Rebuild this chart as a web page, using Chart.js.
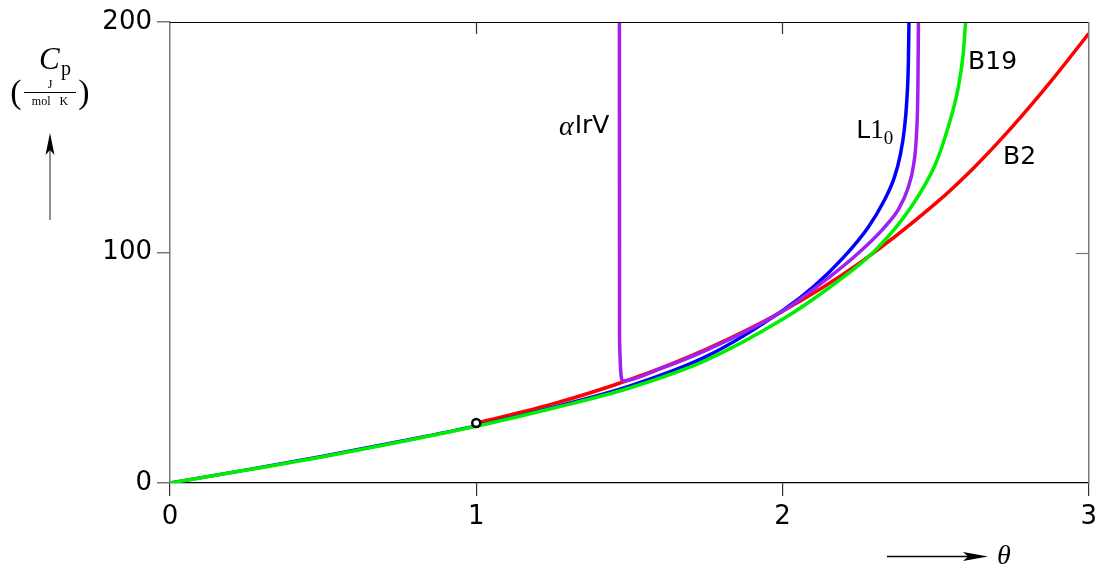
<!DOCTYPE html>
<html>
<head>
<meta charset="utf-8">
<script src="https://cdn.jsdelivr.net/npm/chart.js@4.4.1/dist/chart.umd.min.js"></script>
<style>
  html, body { margin: 0; padding: 0; background: #fff; }
  #wrap { width: 1103px; height: 567px; position: relative; }
</style>
</head>
<body>
<div id="wrap"><canvas id="c" width="1103" height="567"></canvas></div>
<script>
// Heat capacity C_p (J/(mol K)) against reduced temperature theta for four phases
const xTickValues = [0, 1, 2, 3];
const xTickLabels = ['0', '1', '2', '3'];
const yTickValues = [0, 100, 200];
const yTickLabels = ['0', '100', '200'];

// B19 (green)
const thetaB19 = [0, 0.25, 0.5, 0.75, 1, 1.25, 1.5, 1.75, 2, 2.15, 2.3, 2.42, 2.5, 2.54, 2.573, 2.59, 2.598];
const cpB19    = [0, 5.6, 11.4, 17.8, 24.6, 32.4, 41.2, 53.2, 71, 84.5, 100.5, 119.7, 138.5, 154, 171, 186, 200];

// L1_0 (blue)
const thetaL10 = [0, 0.25, 0.5, 0.75, 1, 1.25, 1.5, 1.75, 2, 2.1, 2.2, 2.28, 2.33, 2.365, 2.385, 2.398, 2.406, 2.411, 2.413];
const cpL10    = [0, 5.7, 11.6, 18, 24.8, 32.8, 42, 54.8, 74.8, 85, 98, 111, 122, 132.5, 142.5, 153.5, 166, 182, 200];

// B2 (red), starting at the open marker
const thetaB2 = [1, 1.25, 1.5, 1.75, 2, 2.25, 2.5, 2.625, 2.75, 2.875, 3];
const cpB2    = [26, 34.3, 44.8, 58, 74.5, 95.3, 121.3, 136.8, 154.5, 174, 195];

// alpha-IrV (purple)
const thetaIrV = [1.4675, 1.468, 1.478, 1.6, 1.75, 2, 2.15, 2.25, 2.33, 2.38, 2.41, 2.428, 2.437, 2.442, 2.444];
const cpIrV    = [200, 62, 44.3, 49.5, 57.5, 74.5, 89, 100, 110.5, 119, 128, 138, 150, 170, 200];

// Open marker where B2 begins
const markerTheta = [1];
const markerCp = [26];

const pts = (xs, ys) => xs.map((x, i) => ({ x: x, y: ys[i] }));

const curveStyle = (color) => ({
  borderColor: color,
  backgroundColor: color,
  borderWidth: 3.5,
  pointRadius: 0,
  fill: false,
  cubicInterpolationMode: 'monotone',
  showLine: true
});

const mathSerif = '"Liberation Serif", "DejaVu Serif", serif';
const sans = '"DejaVu Sans", "Liberation Sans", sans-serif';

// Labels placed in data coordinates next to each curve
const curveLabelPlugin = {
  id: 'curveLabels',
  afterDraw(chart) {
    const { ctx, scales: { x, y } } = chart;
    ctx.save();
    ctx.fillStyle = '#000';
    ctx.textBaseline = 'middle';

    // alpha IrV
    let px = x.getPixelForValue(1.27), py = y.getPixelForValue(154.5);
    ctx.font = 'italic 28px ' + mathSerif;
    ctx.textAlign = 'left';
    ctx.fillText('\u03B1', px, py + 1);
    px += ctx.measureText('\u03B1').width + 1;
    ctx.font = '25px ' + sans;
    ctx.fillText('IrV', px, py);

    // L1_0
    px = x.getPixelForValue(2.241); py = y.getPixelForValue(152.7);
    ctx.font = '25px ' + sans;
    ctx.fillText('L', px, py);
    px += ctx.measureText('L').width;
    ctx.font = '27px ' + mathSerif;
    ctx.fillText('1', px, py);
    px += ctx.measureText('1').width;
    ctx.font = '19px ' + mathSerif;
    ctx.fillText('0', px, py + 8);

    // B19
    ctx.font = '25px ' + sans;
    ctx.fillText('B19', x.getPixelForValue(2.606), y.getPixelForValue(182.6));

    // B2
    ctx.fillText('B2', x.getPixelForValue(2.72), y.getPixelForValue(141));
    ctx.restore();
  }
};

// Top and right frame edges with inward ticks, plus the axis titles and arrows
const framePlugin = {
  id: 'frame',
  afterDatasetsDraw(chart) {
    const { ctx, chartArea: a, scales: { x, y } } = chart;
    ctx.save();
    // top edge
    ctx.strokeStyle = '#000';
    ctx.lineWidth = 1.2;
    ctx.beginPath();
    ctx.moveTo(a.left, a.top + 0.5);
    ctx.lineTo(a.right, a.top + 0.5);
    ctx.stroke();
    // right edge
    ctx.strokeStyle = '#777';
    ctx.lineWidth = 1.5;
    ctx.beginPath();
    ctx.moveTo(a.right, a.top);
    ctx.lineTo(a.right, a.bottom);
    ctx.stroke();
    // inward ticks on top edge
    ctx.strokeStyle = '#333';
    ctx.lineWidth = 1.2;
    xTickValues.forEach(v => {
      if (v === 0 || v === 3) return;
      const p = Math.round(x.getPixelForValue(v)) + 0.5;
      ctx.beginPath();
      ctx.moveTo(p, a.top);
      ctx.lineTo(p, a.top + 12);
      ctx.stroke();
    });
    // inward ticks on right edge
    ctx.strokeStyle = '#777';
    yTickValues.forEach(v => {
      if (v === 0 || v === 200) return;
      const p = Math.round(y.getPixelForValue(v)) + 0.5;
      ctx.beginPath();
      ctx.moveTo(a.right, p);
      ctx.lineTo(a.right - 13, p);
      ctx.stroke();
    });
    ctx.restore();
  },
  afterDraw(chart) {
    const { ctx } = chart;
    ctx.save();
    ctx.fillStyle = '#000';
    ctx.strokeStyle = '#000';

    // y title: C_p with unit fraction
    ctx.textBaseline = 'alphabetic';
    ctx.textAlign = 'left';
    ctx.font = 'italic 31px ' + mathSerif;
    ctx.fillText('C', 39, 69);
    ctx.font = '20px ' + mathSerif;
    ctx.fillText('p', 61, 75);

    ctx.font = '34px ' + mathSerif;
    ctx.textAlign = 'center';
    ctx.fillText('(', 16, 103);
    ctx.fillText(')', 84, 103);
    ctx.font = '12px ' + mathSerif;
    ctx.fillText('J', 50, 88);
    ctx.fillText('mol   K', 50, 105);
    ctx.lineWidth = 1;
    ctx.beginPath();
    ctx.moveTo(24, 92.5);
    ctx.lineTo(76, 92.5);
    ctx.stroke();

    // upward arrow
    ctx.strokeStyle = '#555';
    ctx.lineWidth = 1.3;
    ctx.beginPath();
    ctx.moveTo(50, 220);
    ctx.lineTo(50, 145);
    ctx.stroke();
    ctx.beginPath();
    ctx.moveTo(50, 133);
    ctx.lineTo(54.5, 155);
    ctx.lineTo(50, 150);
    ctx.lineTo(45.5, 155);
    ctx.closePath();
    ctx.fill();

    // rightward arrow with theta
    ctx.strokeStyle = '#000';
    ctx.beginPath();
    ctx.moveTo(887, 556.5);
    ctx.lineTo(975, 556.5);
    ctx.stroke();
    ctx.beginPath();
    ctx.moveTo(988, 556.5);
    ctx.lineTo(963, 552);
    ctx.lineTo(968, 556.5);
    ctx.lineTo(963, 561);
    ctx.closePath();
    ctx.fill();
    ctx.font = 'italic 28px ' + mathSerif;
    ctx.textAlign = 'left';
    ctx.fillText('\u03B8', 997, 564);
    ctx.restore();
  }
};

new Chart(document.getElementById('c'), {
  type: 'scatter',
  data: {
    datasets: [
      Object.assign({ label: 'B2', data: pts(thetaB2, cpB2), order: 4 }, curveStyle('#ff0000')),
      Object.assign({ label: 'L1_0', data: pts(thetaL10, cpL10), order: 3 }, curveStyle('#0000ff')),
      Object.assign({ label: 'alpha IrV', data: pts(thetaIrV, cpIrV), order: 2 }, curveStyle('#a020f0')),
      Object.assign({ label: 'B19', data: pts(thetaB19, cpB19), order: 1 }, curveStyle('#00ee00')),
      {
        label: 'B2 start',
        data: pts(markerTheta, markerCp),
        showLine: false,
        pointRadius: 4,
        pointBorderWidth: 2.5,
        pointBackgroundColor: '#fff',
        pointBorderColor: '#000',
        order: 0
      }
    ]
  },
  options: {
    responsive: false,
    animation: false,
    events: [],
    layout: { autoPadding: false, padding: { top: 22, right: 9.5, left: 0, bottom: 0 } },
    plugins: { legend: { display: false }, tooltip: { enabled: false } },
    scales: {
      x: {
        type: 'linear',
        min: 0, max: 3,
        afterFit: s => { s.height = 84; },
        afterBuildTicks: s => { s.ticks = xTickValues.map(v => ({ value: v })); },
        ticks: {
          callback: (v) => xTickLabels[xTickValues.indexOf(v)],
          color: '#000',
          font: { family: sans, size: 26 },
          padding: 6,
          maxRotation: 0
        },
        grid: { drawOnChartArea: false, drawTicks: true, tickLength: 13, color: '#333', lineWidth: 1.2 },
        border: { display: true, color: '#000', width: 1.2 }
      },
      y: {
        type: 'linear',
        min: 0, max: 200,
        afterFit: s => { s.width = 170; },
        afterBuildTicks: s => { s.ticks = yTickValues.map(v => ({ value: v })); },
        ticks: {
          callback: (v) => yTickLabels[yTickValues.indexOf(v)],
          color: '#000',
          font: { family: sans, size: 26 },
          padding: 5
        },
        grid: { drawOnChartArea: false, drawTicks: true, tickLength: 13, color: '#777', lineWidth: 1.5 },
        border: { display: true, color: '#777', width: 1.5 }
      }
    }
  },
  plugins: [framePlugin, curveLabelPlugin]
});
</script>
</body>
</html>
